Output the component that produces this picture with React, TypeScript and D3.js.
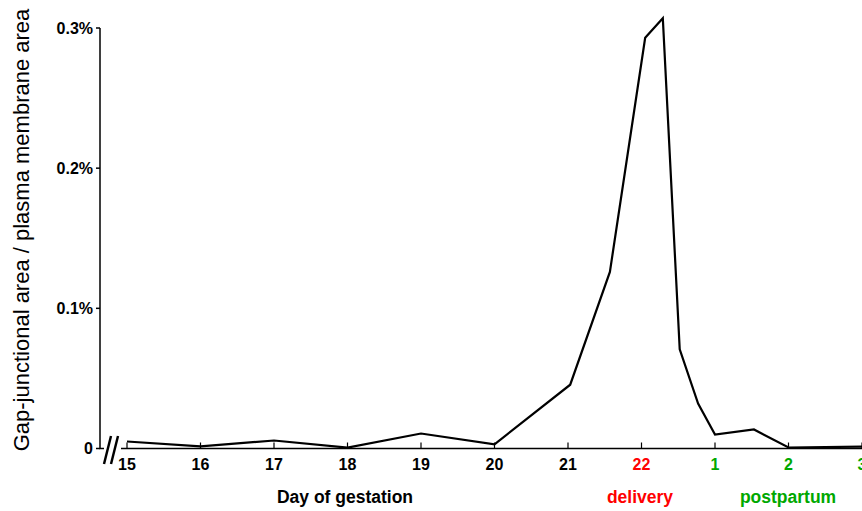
import React from "react";
import * as d3 from "d3";

const tickLabels = ["15", "16", "17", "18", "19", "20", "21", "22", "1", "2", "3"];
const tickColors = ["#000", "#000", "#000", "#000", "#000", "#000", "#000", "#ff0000", "#00a800", "#00a800", "#00a800"];
const dayPos = [0, 1, 2, 3, 4, 5, 6.03, 6.57, 7.05, 7.29, 7.52, 7.77, 8.0, 8.53, 9.0, 10];
const values = [0.005, 0.0015, 0.0057, 0.0007, 0.0107, 0.003, 0.0455, 0.126, 0.293, 0.307, 0.0707, 0.032, 0.010, 0.0136, 0.0007, 0.0014];
const yTicks = [0, 0.1, 0.2, 0.3];
const yTickLabels = ["0", "0.1%", "0.2%", "0.3%"];

export default function App() {
  const W = 862, H = 511;
  const x = d3.scaleLinear().domain([0, 10]).range([127, 862]);
  const y = d3.scaleLinear().domain([0, 0.3]).range([448.5, 28]);
  const line = d3.line<number>().x((_, i) => x(dayPos[i])).y((d) => y(d));
  const font = "'Liberation Sans', Arial, sans-serif";
  const base = y(0);
  return (
    <svg width={W} height={H} style={{ position: "absolute", left: 0, top: 0, background: "#fff" }} fontFamily={font}>
      {/* y axis */}
      <path d={`M100,${y(0.3)}V${base}H104`} fill="none" stroke="#000" strokeWidth={1.5} />
      {yTicks.map((t, i) => (
        <g key={t}>
          <line x1={96} x2={100} y1={y(t)} y2={y(t)} stroke="#000" strokeWidth={1.5} />
          <text x={93} y={y(t)} dy="0.35em" textAnchor="end" fontSize={16} fontWeight="bold">{yTickLabels[i]}</text>
        </g>
      ))}
      {/* break marks */}
      <line x1={104} y1={464} x2={111} y2={436} stroke="#000" strokeWidth={2.5} />
      <line x1={111} y1={464} x2={118} y2={436} stroke="#000" strokeWidth={2.5} />
      {/* x axis */}
      <line x1={121} x2={W} y1={base} y2={base} stroke="#000" strokeWidth={1.5} />
      {tickLabels.map((l, i) => (
        <g key={i}>
          <line x1={x(i)} x2={x(i)} y1={base} y2={base - 6} stroke="#000" strokeWidth={1.2} />
          <text x={x(i)} y={470} textAnchor="middle" fontSize={16} fontWeight="bold" fill={tickColors[i]}>{l}</text>
        </g>
      ))}
      <path d={line(values) || ""} fill="none" stroke="#000" strokeWidth={2.2} strokeLinejoin="miter" />
      <text x={345} y={503} textAnchor="middle" fontSize={17.5} fontWeight="bold">Day of gestation</text>
      <text x={640} y={503} textAnchor="middle" fontSize={17.5} fontWeight="bold" fill="#ff0000">delivery</text>
      <text x={788} y={503} textAnchor="middle" fontSize={17.5} fontWeight="bold" fill="#00a800">postpartum</text>
      <text transform="translate(29,230) rotate(-90)" textAnchor="middle" fontSize={22}>Gap-junctional area / plasma membrane area</text>
    </svg>
  );
}
